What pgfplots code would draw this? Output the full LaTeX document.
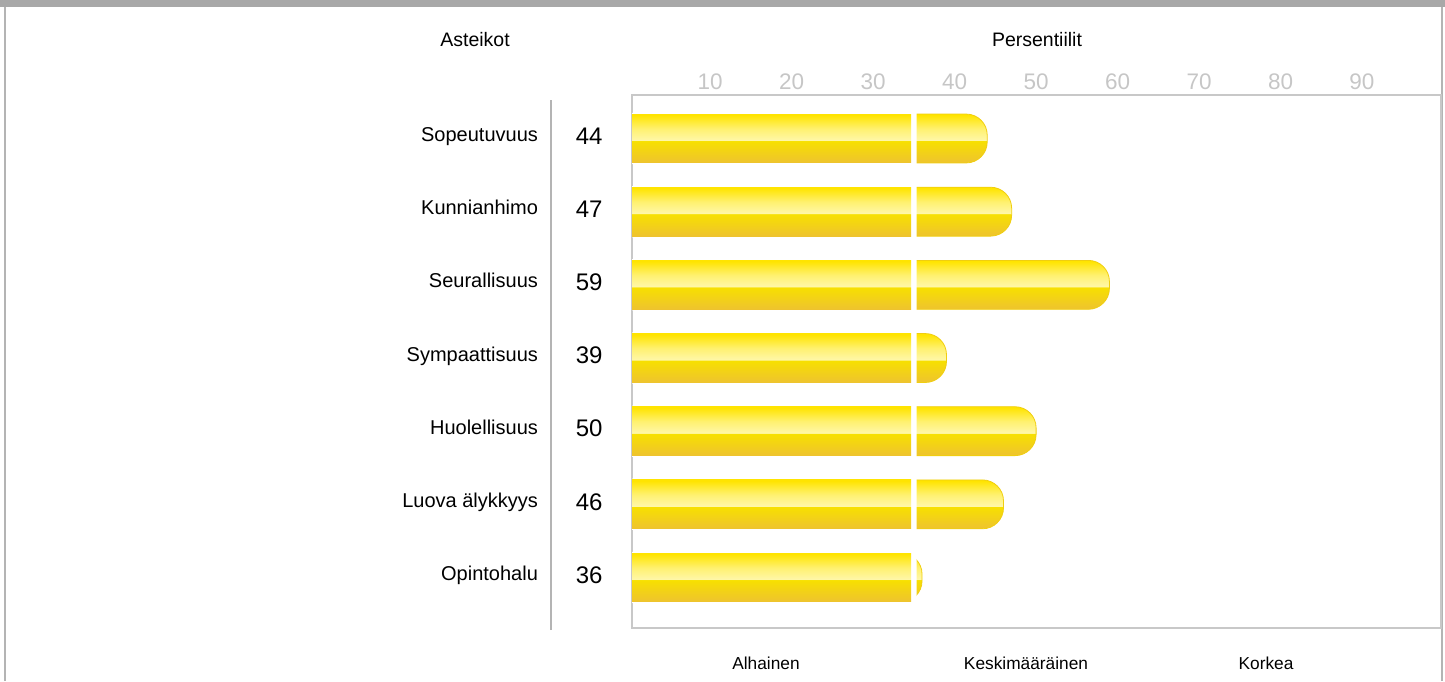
\documentclass[border=0pt]{standalone}
\usepackage{pgfplots}
\pgfplotsset{compat=1.18}
\usepackage{fontspec}
\setmainfont{Liberation Sans}
\definecolor{framegray}{HTML}{A8A8A8}
\definecolor{linegray}{HTML}{B4B4B4}
\definecolor{axisgray}{HTML}{C8C8C8}
\definecolor{tickgray}{HTML}{C6C6C6}
\definecolor{barA}{HTML}{EEC32F}
\definecolor{barB}{HTML}{F7E000}
\definecolor{barC}{HTML}{FFF7A8}
\definecolor{barD}{HTML}{FFF170}
\definecolor{barE}{HTML}{FFE400}
\definecolor{baredge}{HTML}{F0CE10}
\pgfdeclareverticalshading{barshade}{100bp}{color(0bp)=(barA); color(25bp)=(barA); color(47.5bp)=(barB); color(48.2bp)=(barC); color(60bp)=(barD); color(74bp)=(barE); color(100bp)=(barE)}
% full bar (rounded end) for value #1 in row #2
\newcommand{\fullbar}[2]{%
  \addplot[xbar, bar shift=0pt, bar width=0.668, shading=barshade, draw=baredge, line width=0.4pt, rounded corners=10.5pt]
    coordinates {(#1,#2)};}
% left segment (below 35) for row #1
\newcommand{\leftbar}[1]{%
  \addplot[xbar, bar shift=0pt, bar width=0.668, shading=barshade, draw=none]
    coordinates {(34.65,#1)};}
\begin{document}
\begin{tikzpicture}[x=1pt,y=1pt]
\useasboundingbox (0,0) rectangle (722.5,340.5);
\fill[framegray] (0,337) rectangle (722.5,340.5);
\draw[linegray, line width=1pt] (2.5,0) -- (2.5,337);
\draw[linegray, line width=1pt] (721,0) -- (721,337);
\begin{axis}[
  at={(316pt,26.5pt)}, anchor=south west, scale only axis,
  width=404.5pt, height=266.5pt,
  xmin=0.4, xmax=99.7, ymin=0.4055, ymax=7.69, y dir=reverse,
  axis line style={axisgray, line width=1pt},
  xtick={10,20,30,40,50,60,70,80,90}, xticklabel pos=right,
  ytick=\empty,
  major tick length=0pt,
  xticklabel style={anchor=base, yshift=2.85pt, font=\fontsize{11.25}{13}\selectfont, text=tickgray},
  /pgf/number format/assume math mode=true,
  clip mode=individual,
]
\fullbar{44}{1}
\fullbar{47}{2}
\fullbar{59}{3}
\fullbar{39}{4}
\fullbar{50}{5}
\fullbar{46}{6}
\fullbar{36}{7}
\addplot[xbar, bar shift=0pt, bar width=0.70, fill=white, draw=none]
  coordinates {(35.35,1) (35.35,2) (35.35,3) (35.35,4) (35.35,5) (35.35,6) (35.35,7)};
\leftbar{1}
\leftbar{2}
\leftbar{3}
\leftbar{4}
\leftbar{5}
\leftbar{6}
\leftbar{7}
\tikzset{nm/.style={anchor=base east, inner sep=0pt, font=\fontsize{10}{12}\selectfont},
         nb/.style={anchor=base, inner sep=0pt, font=\fontsize{12}{14}\selectfont}}
\node[nm] at (axis cs:-11.1,1.041) {Sopeutuvuus};
\node[nm] at (axis cs:-11.1,2.041) {Kunnianhimo};
\node[nm] at (axis cs:-11.1,3.041) {Seurallisuus};
\node[nm] at (axis cs:-11.1,4.041) {Sympaattisuus};
\node[nm] at (axis cs:-11.1,5.041) {Huolellisuus};
\node[nm] at (axis cs:-11.1,6.041) {Luova älykkyys};
\node[nm] at (axis cs:-11.1,7.041) {Opintohalu};
\node[nb] at (axis cs:-4.85,1.079) {44};
\node[nb] at (axis cs:-4.85,2.079) {47};
\node[nb] at (axis cs:-4.85,3.079) {59};
\node[nb] at (axis cs:-4.85,4.079) {39};
\node[nb] at (axis cs:-4.85,5.079) {50};
\node[nb] at (axis cs:-4.85,6.079) {46};
\node[nb] at (axis cs:-4.85,7.079) {36};
\end{axis}
\draw[linegray, line width=0.75pt] (275.5,25.5) -- (275.5,290.5);
\node[anchor=base, font=\fontsize{9.75}{12}\selectfont] at (237.5,317.15) {Asteikot};
\node[anchor=base, font=\fontsize{9.75}{12}\selectfont] at (518.5,317.15) {Persentiilit};
\node[anchor=base, font=\fontsize{8.65}{11}\selectfont] at (383,5.85) {Alhainen};
\node[anchor=base, font=\fontsize{8.65}{11}\selectfont] at (513,5.85) {Keskimääräinen};
\node[anchor=base, font=\fontsize{8.65}{11}\selectfont] at (633,5.85) {Korkea};
\end{tikzpicture}
\end{document}
